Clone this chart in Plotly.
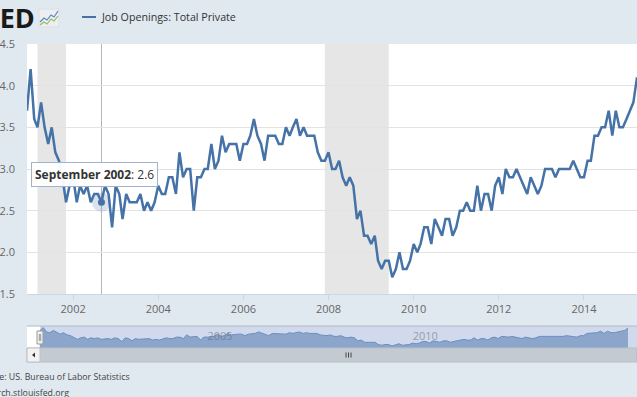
import plotly.graph_objects as go
import pandas as pd

# ---------------- data ----------------
start_month = "2000-12-01"
end_month = "2015-04-01"
values = [
    3.7, 4.2, 3.6, 3.5, 3.8, 3.5, 3.3, 3.5, 3.2, 3.1, 2.9, 2.6,   # Dec00-Nov01
    2.8, 2.9, 2.6, 2.8, 2.7, 2.8, 2.6, 2.7, 2.7, 2.6, 2.8, 2.7,   # Dec01-Nov02
    2.3, 2.8, 2.7, 2.4, 2.7, 2.6, 2.6, 2.6, 2.7, 2.5, 2.6, 2.5,   # Dec02-Nov03
    2.6, 2.8, 2.7, 2.7, 2.9, 2.9, 2.7, 3.2, 2.9, 3.0, 3.0, 2.5,   # Dec03-Nov04
    2.9, 2.9, 3.0, 3.0, 3.3, 3.0, 3.1, 3.4, 3.2, 3.3, 3.3, 3.3,   # Dec04-Nov05
    3.1, 3.3, 3.3, 3.4, 3.6, 3.4, 3.3, 3.1, 3.4, 3.4, 3.4, 3.3,   # Dec05-Nov06
    3.3, 3.5, 3.4, 3.5, 3.6, 3.4, 3.5, 3.4, 3.4, 3.4, 3.2, 3.1,   # Dec06-Nov07
    3.1, 3.2, 3.0, 3.0, 3.1, 2.9, 2.8, 2.9, 2.8, 2.4, 2.5, 2.2,   # Dec07-Nov08
    2.2, 2.1, 2.2, 1.9, 1.8, 1.9, 1.9, 1.7, 1.8, 2.0, 1.8, 1.8,   # Dec08-Nov09
    1.9, 2.1, 2.0, 2.1, 2.3, 2.3, 2.1, 2.4, 2.3, 2.2, 2.4, 2.4,   # Dec09-Nov10
    2.2, 2.3, 2.5, 2.5, 2.6, 2.5, 2.5, 2.8, 2.5, 2.7, 2.7, 2.5,   # Dec10-Nov11
    2.8, 2.9, 2.7, 3.0, 2.9, 2.9, 3.0, 2.9, 2.8, 2.7, 2.9, 2.8,   # Dec11-Nov12
    2.7, 2.8, 3.0, 3.0, 3.0, 2.9, 3.0, 3.0, 3.0, 3.0, 3.1, 3.0,   # Dec12-Nov13
    2.9, 2.9, 3.1, 3.1, 3.4, 3.4, 3.5, 3.5, 3.7, 3.4, 3.7, 3.5,   # Dec13-Nov14
    3.5, 3.6, 3.7, 3.8, 4.1,                                      # Dec14-Apr15
]
dates = pd.date_range(start_month, end_month, freq="MS")

series_name = "Job Openings: Total Private"
recessions = [("2001-03-01", "2001-11-01"), ("2007-12-01", "2009-06-01")]
hover_date = "2002-09-01"
hover_label = "September 2002"
y_ticks = [1.5, 2.0, 2.5, 3.0, 3.5, 4.0, 4.5]
source_text = "Source: US. Bureau of Labor Statistics"
site_text = "research.stlouisfed.org"

# ---------------- layout helpers ----------------
W, H = 637, 397
ML, MR, MT, MB = 27, 0, 44, 49
PW, PH = W - ML - MR, H - MT - MB


def px(xp):
    return (xp - ML) / PW


def py(yp):
    return (H - MB - yp) / PH


LINE = "#4572a7"
BG = "#e1e9f0"
hover_value = values[list(dates).index(pd.Timestamp(hover_date))]

fig = go.Figure()

# main series
fig.add_trace(go.Scatter(x=dates, y=values, mode="lines", name=series_name,
                         line=dict(color=LINE, width=2.5), showlegend=False,
                         hoverinfo="skip"))
# hover halo + marker
fig.add_trace(go.Scatter(x=[hover_date], y=[hover_value], mode="markers",
                         marker=dict(size=19, color="rgba(69,114,167,0.2)"),
                         showlegend=False, hoverinfo="skip"))
fig.add_trace(go.Scatter(x=[hover_date], y=[hover_value], mode="markers",
                         marker=dict(size=7, color=LINE),
                         showlegend=False, hoverinfo="skip"))
# navigator series
fig.add_trace(go.Scatter(x=dates, y=values, mode="lines", xaxis="x2", yaxis="y2",
                         fill="tozeroy", fillcolor="rgba(69,114,167,0.5)",
                         line=dict(color="#6b8fc2", width=1), showlegend=False,
                         hoverinfo="skip"))

shapes = []
for a, b in recessions:
    shapes.append(dict(type="rect", xref="x", yref="y domain", x0=a, x1=b, y0=0, y1=1,
                       fillcolor="#e6e6e6", line=dict(width=0), layer="below"))
# crosshair
shapes.append(dict(type="line", xref="x", yref="y domain", x0=hover_date, x1=hover_date,
                   y0=0, y1=1, line=dict(color="#b5b5b5", width=1), layer="below"))
# navigator mask + outline
shapes.append(dict(type="rect", xref="paper", yref="paper", x0=px(40), x1=px(640),
                   y0=py(348), y1=py(326), fillcolor="rgba(102,133,194,0.3)",
                   line=dict(width=0), layer="below"))
shapes.append(dict(type="line", xref="paper", yref="paper", x0=0, x1=1,
                   y0=py(326), y1=py(326), line=dict(color="#b2b9c4", width=1)))
# scrollbar
shapes.append(dict(type="rect", xref="paper", yref="paper", x0=0, x1=1,
                   y0=py(362), y1=py(348), fillcolor="#c4cad2",
                   line=dict(color="#b8bec7", width=1)))
shapes.append(dict(type="rect", xref="paper", yref="paper", x0=0, x1=px(40),
                   y0=py(362), y1=py(348), fillcolor="#f2f2f2",
                   line=dict(color="#c0c0c0", width=1)))
shapes.append(dict(type="path", xref="paper", yref="paper",
                   path=f"M {px(32)} {py(355)} L {px(35)} {py(352.5)} L {px(35)} {py(357.5)} Z",
                   fillcolor="#333333", line=dict(width=0)))
for gx in (346, 348.5, 351):
    shapes.append(dict(type="line", xref="paper", yref="paper", x0=px(gx), x1=px(gx),
                       y0=py(357.5), y1=py(352.5), line=dict(color="#444444", width=1)))
# navigator left handle
shapes.append(dict(type="rect", xref="paper", yref="paper", x0=px(37), x1=px(43),
                   y0=py(344), y1=py(331), fillcolor="#f2f2f2",
                   line=dict(color="#999999", width=1)))
for gx in (39.3, 40.7):
    shapes.append(dict(type="line", xref="paper", yref="paper", x0=px(gx), x1=px(gx),
                       y0=py(341), y1=py(334), line=dict(color="#999999", width=1)))
# legend line
shapes.append(dict(type="line", xref="paper", yref="paper", x0=px(82), x1=px(96),
                   y0=py(17), y1=py(17), line=dict(color=LINE, width=2)))
# logo icon
shapes.append(dict(type="rect", xref="paper", yref="paper", x0=px(39), x1=px(59),
                   y0=py(27), y1=py(9), fillcolor="#eceef0", line=dict(color="#dcdfe3", width=1)))
shapes.append(dict(type="path", xref="paper", yref="paper",
                   path=(f"M {px(40)} {py(22)} L {px(44)} {py(18)} L {px(47)} {py(20)} "
                         f"L {px(51)} {py(15)} L {px(54)} {py(17)} L {px(58)} {py(11)}"),
                   line=dict(color="#5b86c0", width=1.2)))
shapes.append(dict(type="path", xref="paper", yref="paper",
                   path=(f"M {px(40)} {py(25)} L {px(44)} {py(22)} L {px(47)} {py(24)} "
                         f"L {px(51)} {py(19)} L {px(54)} {py(21)} L {px(58)} {py(16)}"),
                   line=dict(color="#8fbf6a", width=1.2)))

FONT = "Open Sans"
annotations = [
    dict(xref="paper", yref="paper", x=px(99), y=py(17), xanchor="left", yanchor="middle",
         text=series_name, showarrow=False, font=dict(family=FONT, size=10.7, color="#333333")),
    dict(xref="paper", yref="paper", x=px(36.5), y=py(17.5), xanchor="right", yanchor="middle",
         text="<b>FRED</b>", showarrow=False, font=dict(family=FONT, size=27, color="#1a1a1a")),
    dict(xref="paper", yref="paper", x=px(94.5), y=py(174), xanchor="center", yanchor="middle",
         text=f"<b>{hover_label}</b>: {hover_value}", showarrow=False,
         bgcolor="rgba(255,255,255,0.95)", bordercolor="#9fb3cf", borderwidth=1, borderpad=3,
         font=dict(family=FONT, size=12, color="#333333")),
    dict(xref="paper", yref="paper", x=px(132), y=py(377), xanchor="right", yanchor="middle",
         text=source_text, showarrow=False, font=dict(family=FONT, size=8.8, color="#444444")),
    dict(xref="paper", yref="paper", x=px(71), y=py(393), xanchor="right", yanchor="middle",
         text=site_text, showarrow=False, font=dict(family=FONT, size=8.8, color="#444444")),
]

fig.update_layout(
    width=W, height=H,
    margin=dict(l=ML, r=MR, t=MT, b=MB, pad=0),
    paper_bgcolor=BG, plot_bgcolor="white",
    font=dict(family=FONT, size=11, color="#666666"),
    showlegend=False,
    shapes=shapes, annotations=annotations,
    xaxis=dict(type="date", range=[start_month, end_month], domain=[0, 1], anchor="y",
               tick0="2002-01-01", dtick="M24", tickformat="%Y",
               ticks="outside", ticklen=5, tickcolor="#ccd6eb",
               showline=True, linecolor="#ccd6eb", linewidth=1,
               showgrid=False, zeroline=False,
               tickfont=dict(family=FONT, size=11, color="#666666")),
    yaxis=dict(range=[1.5, 4.5], domain=[py(294), 1], anchor="x",
               tickvals=y_ticks, ticktext=[f"{v:.1f}" for v in y_ticks],
               gridcolor="#e3e3e3", gridwidth=1, zeroline=False, showline=False,
               ticks="", ticklabelstandoff=11,
               tickfont=dict(family=FONT, size=11, color="#666666")),
    xaxis2=dict(type="date", range=["2000-08-10", "2015-06-20"], domain=[0, 1], anchor="y2",
                tick0="2000-01-01", dtick="M60", tickformat="%Y",
                ticks="", showline=False, showgrid=False, zeroline=False,
                ticklabelposition="inside right",
                tickfont=dict(family=FONT, size=11, color="rgba(100,100,100,0.55)")),
    yaxis2=dict(range=[1.43, 4.4], domain=[0, py(326)], anchor="x2",
                showticklabels=False, showgrid=False, zeroline=False, ticks=""),
)

fig.write_html("out.html", config={"displayModeBar": False},
               post_script="document.body.style.margin='0';")
